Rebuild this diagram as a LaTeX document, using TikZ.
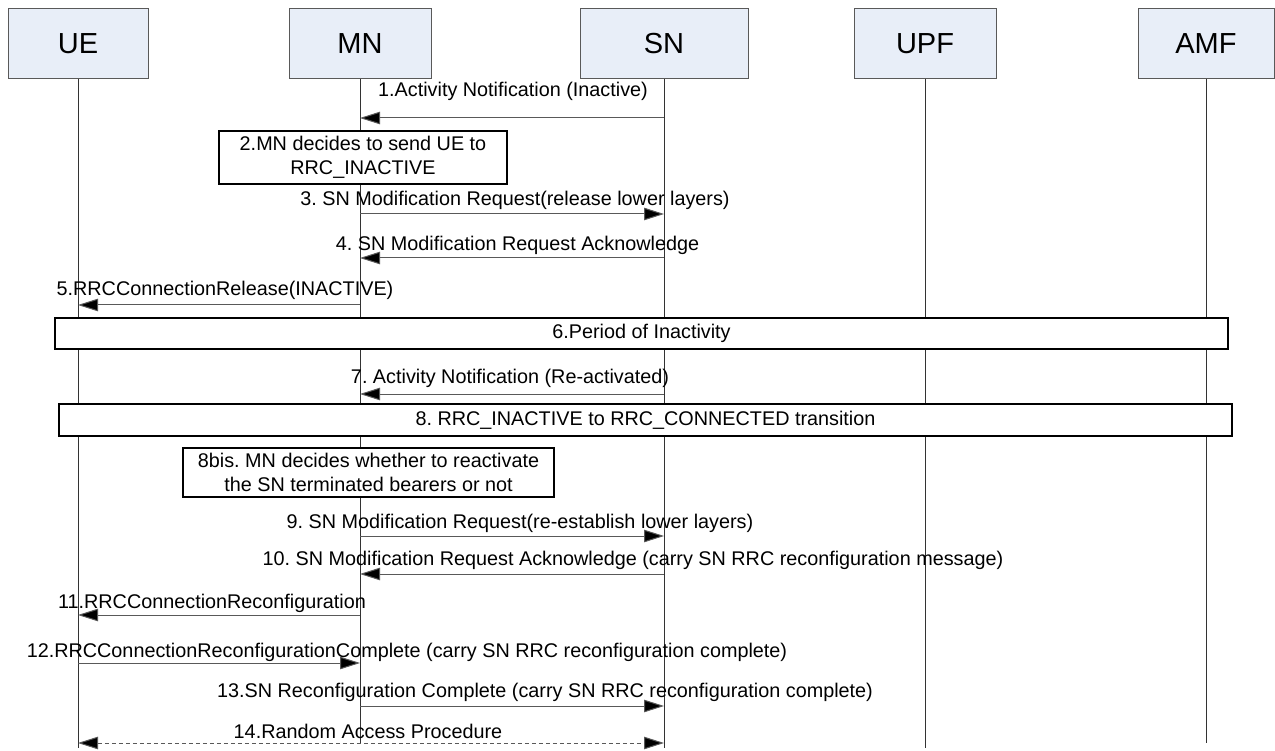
\documentclass[tikz,border=0pt]{standalone}
\usepackage{fontspec}
\setmainfont{Liberation Sans}
\usetikzlibrary{arrows.meta}
\definecolor{headfill}{HTML}{E8EEF8}
\begin{document}
\frenchspacing
\begin{tikzpicture}[x=1pt,y=-1pt,
  head/.style={draw=black!65, fill=headfill, line width=1pt, minimum height=70pt, inner sep=0pt, font=\fontsize{29}{34}\selectfont},
  life/.style={draw=black!80, line width=0.9pt},
  msg/.style={draw=black!65, line width=1pt, -{Triangle[length=20pt,width=12.5pt,fill=black]}},
  dmsg/.style={draw=black!65, line width=1pt, dash pattern=on 4pt off 3pt, {Triangle[length=20pt,width=12.5pt,fill=black]}-{Triangle[length=20pt,width=12.5pt,fill=black]}},
  lbl/.style={font=\fontsize{19.8}{23}\selectfont, inner sep=0pt, anchor=base},
  actbox/.style={draw=black, line width=1.4pt, fill=white, inner sep=0pt, align=center, font=\fontsize{19.8}{24}\selectfont}]
\useasboundingbox (0,0) rectangle (1275,751);

% headers
\node[head, minimum width=140pt] (ue)  at (78,44)   {UE};
\node[head, minimum width=142pt] (mn)  at (360,44)  {MN};
\node[head, minimum width=168pt] (sn)  at (664,44)  {SN};
\node[head, minimum width=142pt] (upf) at (925,44)  {UPF};
\node[head, minimum width=136pt] (amf) at (1206,44) {AMF};

% lifelines
\coordinate (ueend)  at (ue.south |- 0,748);
\coordinate (mnend)  at (mn.south |- 0,743);
\coordinate (snend)  at (sn.south |- 0,748);
\coordinate (upfend) at (upf.south |- 0,748);
\coordinate (amfend) at (amf.south |- 0,743);
\draw[life] (ue.south) -- (ueend);
\draw[life] (mn.south) -- (mnend);
\draw[life] (sn.south) -- (snend);
\draw[life] (upf.south) -- (upfend);
\draw[life] (amf.south) -- (amfend);

% 1
\node[lbl] (l1) at (513,97) {1.Activity Notification (Inactive)};
\draw[msg] (sn |- 0,118) -- (mn |- 0,118);
% 2
\node[actbox, minimum width=288pt, minimum height=53pt] (b2) at (363,157.5) {2.MN decides to send UE to\\RRC\_INACTIVE};
% 3
\node[lbl] (l3) at (515,206) {3. SN Modification Request(release lower layers)};
\draw[msg] (mn |- 0,214) -- (sn |- 0,214);
% 4
\node[lbl] (l4) at (517.5,251) {4. SN Modification Request Acknowledge};
\draw[msg] (sn |- 0,258) -- (mn |- 0,258);
% 5
\node[lbl] (l5) at (225,296) {5.RRCConnectionRelease(INACTIVE)};
\draw[msg] (mn |- 0,305) -- (ue |- 0,305);
% 6
\node[actbox, minimum width=1173pt, minimum height=31pt] (b6) at (641.5,333.5) {6.Period of Inactivity};
% 7
\node[lbl] (l7) at (510,384) {7. Activity Notification (Re-activated)};
\draw[msg] (sn |- 0,394) -- (mn |- 0,394);
% 8
\node[actbox, minimum width=1173pt, minimum height=32pt] (b8) at (645.5,420) {8. RRC\_INACTIVE to RRC\_CONNECTED transition};
% 8bis
\node[actbox, minimum width=371pt, minimum height=49pt] (b8bis) at (368.5,472.5) {8bis. MN decides whether to reactivate\\the SN terminated bearers or not};
% 9
\node[lbl] (l9) at (520,528) {9. SN Modification Request(re-establish lower layers)};
\draw[msg] (mn |- 0,536) -- (sn |- 0,536);
% 10
\node[lbl] (l10) at (633,565) {10. SN Modification Request Acknowledge (carry SN RRC reconfiguration message)};
\draw[msg] (sn |- 0,574) -- (mn |- 0,574);
% 11
\node[lbl] (l11) at (212,608) {11.RRCConnectionReconfiguration};
\draw[msg] (mn |- 0,615) -- (ue |- 0,615);
% 12
\node[lbl] (l12) at (407,657) {12.RRCConnectionReconfigurationComplete (carry SN RRC reconfiguration complete)};
\draw[msg] (ue |- 0,663) -- (mn |- 0,663);
% 13
\node[lbl] (l13) at (545,697) {13.SN Reconfiguration Complete (carry SN RRC reconfiguration complete)};
\draw[msg] (mn |- 0,706) -- (sn |- 0,706);
% 14
\node[lbl] (l14) at (368,738) {14.Random Access Procedure};
\draw[dmsg] (ue |- 0,743) -- (sn |- 0,743);
\end{tikzpicture}
\end{document}
